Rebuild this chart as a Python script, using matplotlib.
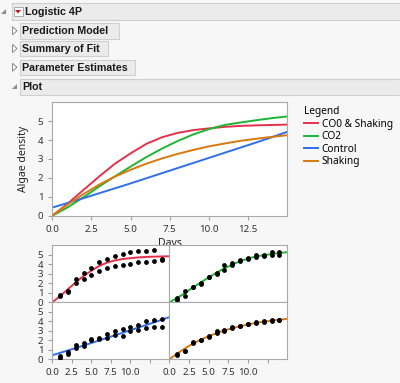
import matplotlib as mpl
mpl.use('Agg')
import matplotlib.pyplot as plt
from matplotlib.patches import Rectangle, Polygon

plt.rcParams['font.family'] = ['Noto Sans', 'DejaVu Sans']

# fitted curves, read at whole days 0..15
curve_days = [0, 1, 2, 3, 4, 5, 6, 7, 8, 9, 10, 11, 12, 13, 14, 15]
fit_co0_shaking = [0.0, 0.65, 1.37, 2.08, 2.75, 3.3, 3.8, 4.15, 4.38, 4.53, 4.62, 4.7, 4.75, 4.78, 4.8, 4.82]
fit_co2 = [0.0, 0.45, 0.98, 1.55, 2.08, 2.6, 3.1, 3.55, 3.95, 4.3, 4.58, 4.8, 4.93, 5.05, 5.16, 5.25]
fit_control = [0.43, 0.68, 0.93, 1.19, 1.45, 1.71, 1.98, 2.25, 2.52, 2.79, 3.06, 3.33, 3.6, 3.87, 4.15, 4.44]
fit_shaking = [0.0, 0.6, 1.15, 1.65, 2.07, 2.43, 2.75, 3.03, 3.27, 3.48, 3.67, 3.82, 3.96, 4.07, 4.17, 4.26]

# observed densities, two replicates per day
days = [1, 2, 3, 4, 5, 6, 7, 8, 9, 10, 11, 12, 13, 14]
co0_a = [0.75, 1.2, 2.4, 3.05, 3.55, 4.2, 4.55, 4.9, 5.05, 5.3, 5.35, 5.4, 5.5, 4.55]
co0_b = [0.65, 1.1, 2.0, 2.45, 2.85, 3.25, 3.6, 3.8, 3.9, 4.05, 4.2, 4.2, 4.3, 4.4]
co2_a = [0.45, 1.23, 1.65, 2.05, 2.7, 3.1, 3.87, 4.1, 4.45, 4.65, 5.0, 5.0, 5.28, 5.3]
co2_b = [0.2, 0.67, 1.55, 1.95, 2.6, 3.0, 3.42, 3.95, 4.35, 4.55, 4.75, 4.8, 4.93, 5.0]
control_a = [0.39, 0.81, 1.52, 1.76, 2.15, 2.22, 2.65, 3.0, 3.17, 3.39, 3.63, 3.99, 4.16, 4.27]
control_b = [0.18, 0.56, 1.16, 1.45, 1.98, 2.15, 2.25, 2.57, 2.5, 2.93, 3.1, 3.28, 3.42, 3.42]
shaking_a = [0.53, 0.92, 1.8, 2.05, 2.42, 2.93, 3.07, 3.35, 3.53, 3.72, 3.88, 3.99, 4.09, 4.16]
shaking_b = [0.5, 0.9, 1.76, 2.0, 2.38, 2.8, 3.03, 3.32, 3.5, 3.68, 3.86, 3.97, 4.07, 4.14]

labels = ['CO0 & Shaking', 'CO2', 'Control', 'Shaking']
colors = ['#e5304c', '#1db532', '#2f6fec', '#d9780f']

W, H = 400, 383
fig = plt.figure(figsize=(W / 100, H / 100), dpi=100)
fig.patch.set_facecolor('#f7f7f7')

def px_axes(left, top, right, bottom, **kw):
    return fig.add_axes([left / W, 1 - bottom / H, (right - left) / W, (bottom - top) / H], **kw)

# report outline headers
bg = px_axes(0, 0, W, H, zorder=-1)
bg.set_xlim(0, W); bg.set_ylim(H, 0); bg.axis('off')
bars = [(12, 3, 400, 20, 'Logistic 4P', True),
        (19.5, 23, 119, 38.5, 'Prediction Model', False),
        (19.5, 41, 108, 56, 'Summary of Fit', False),
        (19.5, 59.5, 135, 75, 'Parameter Estimates', False),
        (19.5, 78.5, 400, 95, 'Plot', True)]
for x0, y0, x1, y1, txt, is_open in bars:
    bg.add_patch(Rectangle((x0, y0), x1 - x0, y1 - y0, facecolor='#ebebeb', edgecolor='#cfcfcf', lw=0.8))
    yc = (y0 + y1) / 2
    tx = x0 + 2.5
    if txt == 'Logistic 4P':
        bg.add_patch(Polygon([[6, yc - 3], [6, yc + 2], [1, yc + 2]], closed=True, facecolor='#8a8a8a', edgecolor='none'))
        bg.add_patch(Rectangle((13.5, yc - 4.5), 9, 9, facecolor='white', edgecolor='#a8a8a8', lw=0.7))
        bg.add_patch(Polygon([[15, yc - 1.5], [21, yc - 1.5], [18, yc + 2]], closed=True, facecolor='#d0161e', edgecolor='none'))
        tx = 25
    elif is_open:
        bg.add_patch(Polygon([[17, yc - 3], [17, yc + 2], [12, yc + 2]], closed=True, facecolor='#8a8a8a', edgecolor='none'))
    else:
        bg.add_patch(Polygon([[12.5, yc - 4], [12.5, yc + 4], [17, yc]], closed=True, facecolor='white', edgecolor='#8a8a8a', lw=0.7))
    bg.text(tx, yc + 0.5, txt, fontsize=7.7, fontweight='bold', family='Liberation Sans',
            va='center', ha='left', color='#1a1a1a')

def style(ax):
    for s in ax.spines.values():
        s.set_color('#a9a9a9'); s.set_linewidth(0.8)
    ax.tick_params(colors='#a0a0a0', labelcolor='#333333', labelsize=7, length=3, width=0.8)
    ax.set_xlim(0, 15); ax.set_ylim(0, 6)

# overlay plot
ax = px_axes(52.3, 102.3, 287.3, 215.7)
style(ax)
for y, lab, c in zip([fit_co0_shaking, fit_co2, fit_control, fit_shaking], labels, colors):
    ax.plot(curve_days, y, color=c, lw=1.4, label=lab)
ax.set_xticks([0, 2.5, 5, 7.5, 10, 12.5])
ax.set_xticklabels(['0.0', '2.5', '5.0', '7.5', '10.0', '12.5'])
ax.set_yticks([0, 1, 2, 3, 4, 5])
ax.set_xlabel('Days', fontsize=7.5, color='#222222', labelpad=3)
ax.set_ylabel('Algae density', fontsize=7.5, color='#222222', labelpad=6)
leg = ax.legend(loc='upper left', bbox_to_anchor=(297 / W, 1 - 99 / H), bbox_transform=fig.transFigure,
                frameon=False, title='Legend', fontsize=7.3, title_fontsize=7.3, alignment='left',
                handlelength=1.4, handletextpad=0.35, labelspacing=0.15, borderpad=0.2)

# small multiples
panels = [((52.3, 245, 169.3, 302.3), fit_co0_shaking, co0_a, co0_b, colors[0], True, False),
          ((169.3, 245, 287.3, 302.3), fit_co2, co2_a, co2_b, colors[1], False, False),
          ((52.3, 302.3, 169.3, 359.3), fit_control, control_a, control_b, colors[2], True, True),
          ((169.3, 302.3, 287.3, 359.3), fit_shaking, shaking_a, shaking_b, colors[3], False, True)]
for box, fit, ra, rb, c, show_y, show_x in panels:
    a = px_axes(*box)
    style(a)
    a.plot(curve_days, fit, color=c, lw=1.4, zorder=2)
    a.scatter(days, ra, s=12, color='black', zorder=3, linewidths=0)
    a.scatter(days, rb, s=12, color='black', zorder=3, linewidths=0)
    a.set_yticks([0, 1, 2, 3, 4, 5])
    a.set_xticks([0, 2.5, 5, 7.5, 10, 12.5])
    a.set_xticklabels(['0.0', '2.5', '5.0', '7.5', '10.0', ''])
    if not show_y:
        a.tick_params(axis='y', left=False, labelleft=False)
    if not show_x:
        a.tick_params(axis='x', bottom=False, labelbottom=False)

fig.savefig('out.png', dpi=100, facecolor=fig.get_facecolor())
